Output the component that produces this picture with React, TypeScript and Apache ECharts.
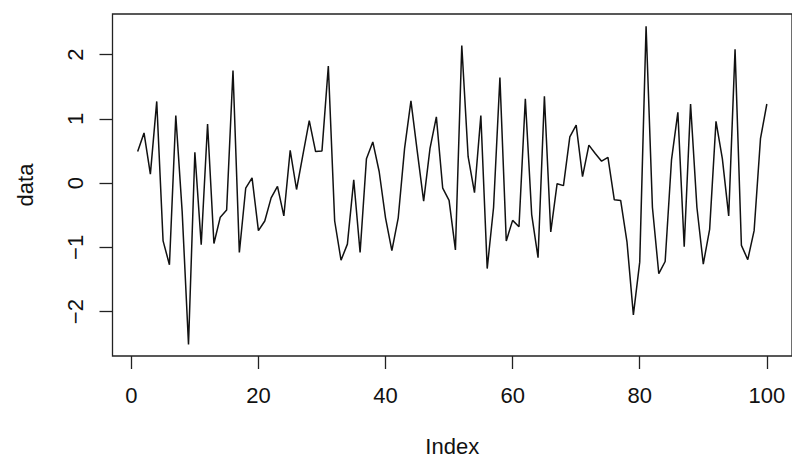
import React, { useEffect, useRef } from "react";
import * as echarts from "echarts";

const dataValues: number[] = [
  0.49, 0.78, 0.14, 1.27, -0.9, -1.27, 1.05, -0.44, -2.51, 0.48,
  -0.96, 0.92, -0.94, -0.53, -0.42, 1.75, -1.08, -0.08, 0.08, -0.74,
  -0.59, -0.23, -0.05, -0.51, 0.51, -0.1, 0.44, 0.97, 0.49, 0.5,
  1.82, -0.59, -1.2, -0.95, 0.05, -1.08, 0.38, 0.64, 0.18, -0.54,
  -1.05, -0.54, 0.54, 1.28, 0.49, -0.28, 0.54, 1.03, -0.08, -0.27,
  -1.04, 2.14, 0.41, -0.15, 1.05, -1.33, -0.38, 1.64, -0.9, -0.58,
  -0.68, 1.31, -0.49, -1.16, 1.35, -0.76, -0.01, -0.04, 0.72, 0.9,
  0.1, 0.59, 0.46, 0.34, 0.4, -0.26, -0.27, -0.92, -2.05, -1.23,
  2.44, -0.38, -1.41, -1.22, 0.36, 1.1, -0.99, 1.23, -0.38, -1.26,
  -0.72, 0.96, 0.38, -0.51, 2.08, -0.97, -1.19, -0.74, 0.69, 1.23,
];

const xTicks: number[] = [0, 20, 40, 60, 80, 100];
const yTicks: number[] = [-2, -1, 0, 1, 2];
const xName = "Index";
const yName = "data";

const FONT = "'Liberation Sans', Arial, sans-serif";
const INK = "#111";

export default function App() {
  const ref = useRef<HTMLDivElement>(null);
  useEffect(() => {
    if (!ref.current) return;
    const chart = echarts.init(ref.current, undefined, { renderer: "svg" });
    const points = dataValues.map((v, i) => [i + 1, v]);
    chart.setOption({
      animation: false,
      backgroundColor: "#fff",
      grid: {
        left: 112.5,
        top: 14,
        width: 683,
        height: 346,
        show: true,
        borderColor: "#222",
        borderWidth: 1.3,
        backgroundColor: "transparent",
      },
      xAxis: {
        type: "value",
        min: -2.96,
        max: 103.96,
        axisLine: { show: false, onZero: false },
        splitLine: { show: false },
        axisTick: {
          show: true,
          length: 13,
          customValues: xTicks,
          lineStyle: { color: "#222", width: 1.3 },
        },
        axisLabel: {
          customValues: xTicks,
          margin: 28,
          fontSize: 22,
          color: INK,
          fontFamily: FONT,
        },
        name: xName,
        nameLocation: "middle",
        nameGap: 79,
        nameTextStyle: { fontSize: 22, color: INK, fontFamily: FONT },
      },
      yAxis: {
        type: "value",
        min: -2.69,
        max: 2.63,
        axisLine: { show: false, onZero: false },
        splitLine: { show: false },
        axisTick: {
          show: true,
          length: 13,
          customValues: yTicks,
          lineStyle: { color: "#222", width: 1.3 },
        },
        axisLabel: {
          customValues: yTicks,
          rotate: 90,
          margin: 26,
          fontSize: 22,
          color: INK,
          fontFamily: FONT,
          formatter: (v: number) => String(v).replace("-", "\u2212"),
        },
        name: yName,
        nameLocation: "middle",
        nameGap: 76,
        nameRotate: 90,
        nameTextStyle: { fontSize: 22, color: INK, fontFamily: FONT },
      },
      series: [
        {
          type: "line",
          data: points,
          symbol: "none",
          clip: false,
          lineStyle: { color: INK, width: 1.5 },
        },
      ],
    });
    return () => chart.dispose();
  }, []);
  return (
    <div
      ref={ref}
      style={{ position: "fixed", left: 0, top: 0, width: 792, height: 462 }}
    />
  );
}
